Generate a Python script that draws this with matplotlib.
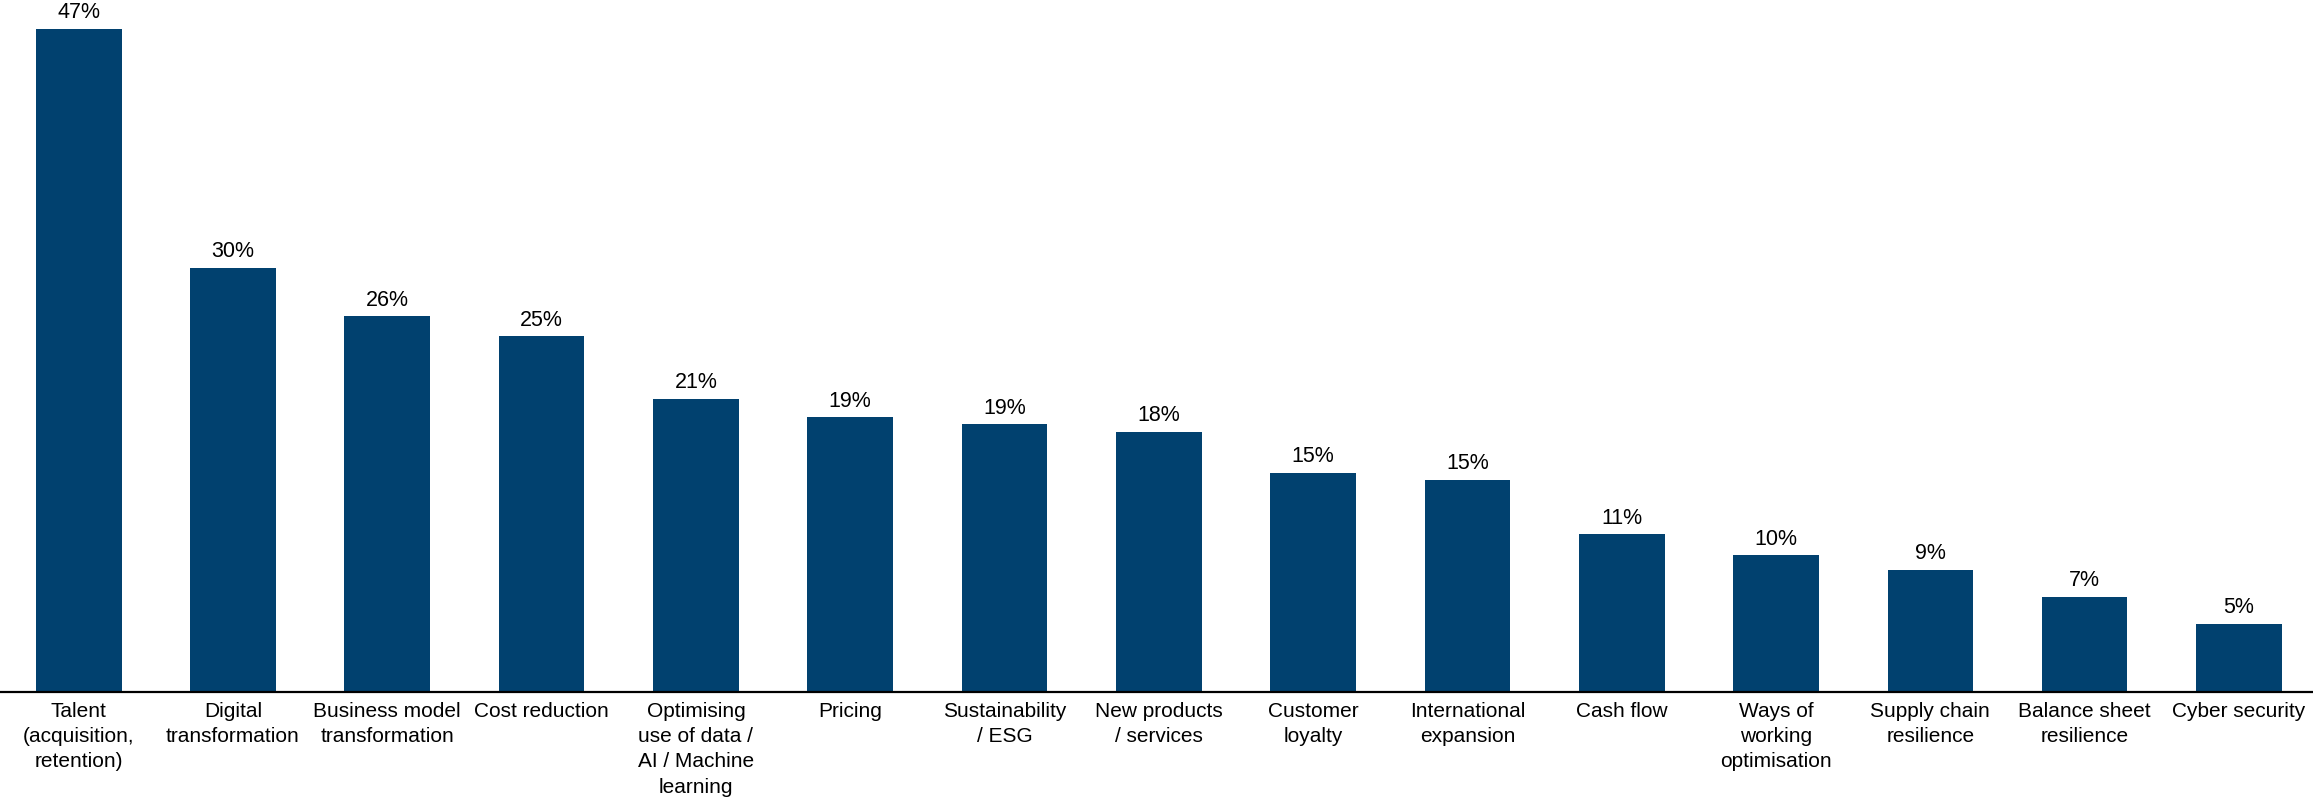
import matplotlib.pyplot as plt

plt.rcParams['font.family'] = ['Liberation Sans', 'DejaVu Sans']

categories = ["Talent\n(acquisition,\nretention)", "Digital\ntransformation",
              "Business model\ntransformation", "Cost reduction",
              "Optimising\nuse of data /\nAI / Machine\nlearning", "Pricing",
              "Sustainability\n/ ESG", "New products\n/ services", "Customer\nloyalty",
              "International\nexpansion", "Cash flow", "Ways of\nworking\noptimisation",
              "Supply chain\nresilience", "Balance sheet\nresilience", "Cyber security"]
values = [46.6, 29.8, 26.4, 25.0, 20.6, 19.3, 18.8, 18.3, 15.4, 14.9, 11.1, 9.6, 8.6, 6.7, 4.8]
labels = [f"{round(v)}%" for v in values]

fig = plt.figure(figsize=(23.13, 7.98), dpi=100)
ax = fig.add_axes([0, 0.1328, 1, 0.8672])

x = range(len(values))
bars = ax.bar(x, values, width=0.555, color='#01416F')
for b, lab in zip(bars, labels):
    ax.annotate(lab, (b.get_x() + b.get_width() / 2, b.get_height()),
                xytext=(0, 4), textcoords='offset points',
                ha='center', va='bottom', fontsize=15.5)

ax.set_xlim(-0.51, 14.48)
ax.set_ylim(0, 48.63)
ax.set_xticks(list(x))
ax.set_xticklabels(categories, fontsize=15, linespacing=1.42)
ax.tick_params(axis='x', length=0, pad=7)
ax.set_yticks([])
for s in ['top', 'left', 'right']:
    ax.spines[s].set_visible(False)
ax.spines['bottom'].set_linewidth(1.6)

fig.savefig('out.png', dpi=100)
